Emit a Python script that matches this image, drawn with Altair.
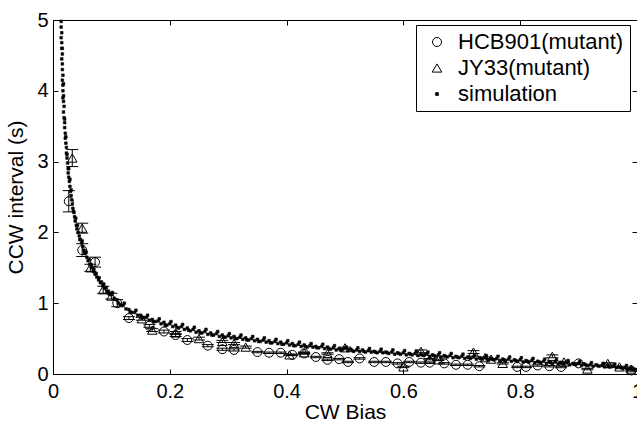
import altair as alt
import pandas as pd

series_names = ["HCB901(mutant)", "JY33(mutant)", "simulation"]

hcb_bias = [0.027, 0.05, 0.072, 0.11, 0.13, 0.165, 0.19, 0.21, 0.23, 0.265, 0.29, 0.31,
            0.35, 0.37, 0.39, 0.41, 0.43, 0.45, 0.47, 0.49, 0.505, 0.525, 0.55, 0.57,
            0.59, 0.61, 0.63, 0.645, 0.67, 0.69, 0.71, 0.73, 0.795, 0.81, 0.83, 0.85,
            0.87, 0.90, 0.99]
hcb_ccw = [2.44, 1.75, 1.58, 1.0, 0.79, 0.68, 0.60, 0.55, 0.48, 0.40, 0.35, 0.34,
           0.31, 0.30, 0.30, 0.27, 0.29, 0.24, 0.20, 0.21, 0.17, 0.22, 0.17, 0.17,
           0.15, 0.17, 0.16, 0.16, 0.15, 0.13, 0.13, 0.11, 0.10, 0.10, 0.12, 0.11,
           0.10, 0.15, 0.05]
hcb_err = [0.15, 0.09, 0.07, 0.05, 0.02, 0.02, 0.02, 0.02, 0.02, 0.015, 0.015, 0.015,
           0.01, 0.01, 0.01, 0.01, 0.01, 0.01, 0.01, 0.01, 0.01, 0.01, 0.01, 0.01,
           0.01, 0.01, 0.01, 0.01, 0.01, 0.01, 0.01, 0.01, 0.01, 0.01, 0.01, 0.01,
           0.01, 0.01, 0.01]

jy_bias = [0.033, 0.05, 0.064, 0.086, 0.10, 0.152, 0.17, 0.21, 0.25, 0.29, 0.31, 0.33,
           0.405, 0.43, 0.47, 0.50, 0.60, 0.63, 0.645, 0.66, 0.72, 0.74, 0.75, 0.77,
           0.855, 0.875, 0.915, 0.95, 0.97, 0.99]
jy_ccw = [3.05, 2.06, 1.50, 1.19, 1.10, 0.78, 0.62, 0.58, 0.50, 0.46, 0.43, 0.38,
          0.27, 0.30, 0.29, 0.37, 0.10, 0.32, 0.21, 0.20, 0.31, 0.23, 0.21, 0.15,
          0.25, 0.17, 0.07, 0.15, 0.10, 0.07]
jy_err = [0.12, 0.07, 0.05, 0.05, 0.04, 0.02, 0.02, 0.02, 0.02, 0.015, 0.015, 0.015,
          0.01, 0.01, 0.01, 0.01, 0.01, 0.02, 0.01, 0.01, 0.02, 0.01, 0.01, 0.01,
          0.02, 0.01, 0.01, 0.01, 0.01, 0.01]

sim_bias = [
    0.014, 0.014, 0.015, 0.014, 0.015, 0.015, 0.016, 0.015, 0.016, 0.016, 0.017, 0.016,
    0.017, 0.017, 0.018, 0.018, 0.019, 0.018, 0.019, 0.020, 0.020, 0.021, 0.021, 0.022,
    0.023, 0.023, 0.024, 0.025, 0.026, 0.026, 0.027, 0.028, 0.029, 0.030, 0.031, 0.032,
    0.033, 0.034, 0.036, 0.037, 0.038, 0.040, 0.041, 0.043, 0.045, 0.047, 0.049, 0.051,
    0.053, 0.055, 0.058, 0.060, 0.063, 0.066, 0.069, 0.072, 0.075, 0.078, 0.081, 0.085,
    0.088, 0.092, 0.096,
    0.016, 0.018, 0.017, 0.020, 0.022, 0.024, 0.027, 0.029, 0.031, 0.035, 0.039, 0.042,
    0.046, 0.050, 0.054, 0.057, 0.062, 0.065, 0.070, 0.074, 0.079, 0.083, 0.087, 0.091,
    0.095, 0.099,
    0.100, 0.105, 0.110, 0.115, 0.120, 0.125, 0.130, 0.135, 0.140, 0.145, 0.150, 0.155,
    0.160, 0.165, 0.170, 0.175, 0.180, 0.185, 0.190, 0.195, 0.200, 0.205, 0.210, 0.215,
    0.220, 0.225, 0.230, 0.235, 0.240, 0.245, 0.250, 0.255, 0.260, 0.265, 0.270, 0.275,
    0.280, 0.285, 0.290, 0.295, 0.300, 0.305, 0.310, 0.315, 0.320, 0.325, 0.330, 0.335,
    0.340, 0.345, 0.350, 0.355, 0.360, 0.365, 0.370, 0.375, 0.380, 0.385, 0.390, 0.395,
    0.400, 0.405, 0.410, 0.415, 0.420, 0.425, 0.430, 0.435, 0.440, 0.445, 0.450, 0.455,
    0.460, 0.465, 0.470, 0.475, 0.480, 0.485, 0.490, 0.495, 0.500, 0.505, 0.510, 0.515,
    0.520, 0.525, 0.530, 0.535, 0.540, 0.545, 0.550, 0.555, 0.560, 0.565, 0.570, 0.575,
    0.580, 0.585, 0.590, 0.595, 0.600, 0.605, 0.610, 0.615, 0.620, 0.625, 0.630, 0.635,
    0.640, 0.645, 0.650, 0.655, 0.660, 0.665, 0.670, 0.675, 0.680, 0.685, 0.690, 0.695,
    0.700, 0.705, 0.710, 0.715, 0.720, 0.725, 0.730, 0.735, 0.740, 0.745, 0.750, 0.755,
    0.760, 0.765, 0.770, 0.775, 0.780, 0.785, 0.790, 0.795, 0.800, 0.805, 0.810, 0.815,
    0.820, 0.825, 0.830, 0.835, 0.840, 0.845, 0.850, 0.855, 0.860, 0.865, 0.870, 0.875,
    0.880, 0.885, 0.890, 0.895, 0.900, 0.905, 0.910, 0.915, 0.920, 0.925, 0.930, 0.935,
    0.940, 0.945, 0.950, 0.955, 0.960, 0.965, 0.970, 0.975, 0.980, 0.985, 0.990, 0.995,
    1.000,
    0.102, 0.122, 0.142, 0.162, 0.182, 0.202, 0.222, 0.242, 0.262, 0.282, 0.302, 0.322,
    0.342, 0.362, 0.382, 0.402, 0.422, 0.442, 0.462, 0.482, 0.502, 0.522, 0.542, 0.562,
    0.582, 0.602, 0.622, 0.642, 0.662, 0.682, 0.702, 0.722, 0.742, 0.762, 0.782, 0.802,
    0.822, 0.842, 0.862, 0.882, 0.902, 0.922, 0.942, 0.962, 0.982,
    0.112, 0.132, 0.152, 0.172, 0.192, 0.212, 0.232, 0.252, 0.272, 0.292, 0.312, 0.332,
    0.352, 0.372, 0.392, 0.412, 0.432, 0.452, 0.472, 0.492, 0.512, 0.532, 0.552, 0.572,
    0.592, 0.612, 0.632, 0.652, 0.672, 0.692, 0.712, 0.732, 0.752, 0.772, 0.792, 0.812,
    0.832, 0.852, 0.872, 0.892, 0.912, 0.932, 0.952, 0.972, 0.992,
]
sim_ccw = [
    4.98, 4.90, 4.82, 4.75, 4.68, 4.60, 4.52, 4.45, 4.38, 4.30, 4.22, 4.15,
    4.08, 4.00, 3.93, 3.85, 3.78, 3.70, 3.62, 3.55, 3.48, 3.40, 3.33, 3.26,
    3.20, 3.12, 3.05, 2.98, 2.90, 2.84, 2.78, 2.72, 2.65, 2.58, 2.52, 2.46,
    2.40, 2.34, 2.28, 2.22, 2.16, 2.10, 2.05, 2.00, 1.95, 1.90, 1.85, 1.80,
    1.75, 1.70, 1.65, 1.60, 1.55, 1.50, 1.45, 1.41, 1.37, 1.33, 1.29, 1.25,
    1.21, 1.17, 1.13,
    4.60, 4.10, 3.90, 3.60, 3.35, 3.10, 2.90, 2.75, 2.60, 2.30, 2.20, 2.10,
    1.90, 1.88, 1.72, 1.72, 1.62, 1.55, 1.48, 1.42, 1.36, 1.30, 1.27, 1.22,
    1.17, 1.14,
    1.12, 1.07, 1.04, 0.98, 0.97, 0.92, 0.91, 0.87, 0.87, 0.83, 0.83, 0.80,
    0.80, 0.76, 0.77, 0.74, 0.75, 0.71, 0.73, 0.69, 0.71, 0.67, 0.69, 0.65,
    0.67, 0.63, 0.65, 0.61, 0.63, 0.59, 0.61, 0.58, 0.60, 0.56, 0.58, 0.55,
    0.57, 0.53, 0.55, 0.52, 0.54, 0.51, 0.53, 0.50, 0.52, 0.49, 0.51, 0.48,
    0.50, 0.47, 0.49, 0.46, 0.48, 0.45, 0.47, 0.44, 0.46, 0.43, 0.45, 0.42,
    0.44, 0.41, 0.43, 0.40, 0.42, 0.39, 0.41, 0.38, 0.40, 0.38, 0.39, 0.37,
    0.39, 0.36, 0.38, 0.35, 0.37, 0.34, 0.36, 0.34, 0.36, 0.33, 0.35, 0.32,
    0.34, 0.32, 0.34, 0.31, 0.33, 0.31, 0.32, 0.30, 0.32, 0.30, 0.31, 0.29,
    0.31, 0.28, 0.30, 0.28, 0.30, 0.27, 0.29, 0.27, 0.29, 0.26, 0.28, 0.26,
    0.28, 0.25, 0.27, 0.25, 0.27, 0.24, 0.26, 0.24, 0.26, 0.23, 0.25, 0.23,
    0.25, 0.22, 0.24, 0.22, 0.24, 0.21, 0.23, 0.21, 0.23, 0.20, 0.22, 0.20,
    0.22, 0.19, 0.21, 0.19, 0.21, 0.18, 0.20, 0.18, 0.20, 0.17, 0.19, 0.17,
    0.19, 0.16, 0.18, 0.16, 0.18, 0.15, 0.17, 0.15, 0.17, 0.14, 0.16, 0.14,
    0.16, 0.13, 0.15, 0.13, 0.15, 0.12, 0.14, 0.12, 0.13, 0.11, 0.13, 0.11,
    0.12, 0.10, 0.12, 0.10, 0.11, 0.09, 0.10, 0.08, 0.09, 0.07, 0.08, 0.06,
    0.06,
    1.15, 1.00, 0.90, 0.83, 0.78, 0.74, 0.70, 0.66, 0.63, 0.60, 0.57, 0.55,
    0.53, 0.51, 0.49, 0.47, 0.45, 0.43, 0.42, 0.40, 0.38, 0.37, 0.36, 0.35,
    0.34, 0.33, 0.32, 0.31, 0.30, 0.29, 0.28, 0.27, 0.26, 0.25, 0.24, 0.23,
    0.22, 0.21, 0.20, 0.19, 0.18, 0.16, 0.15, 0.14, 0.12,
    1.00, 0.88, 0.79, 0.74, 0.69, 0.66, 0.62, 0.58, 0.55, 0.52, 0.50, 0.48,
    0.46, 0.44, 0.42, 0.40, 0.39, 0.37, 0.36, 0.34, 0.33, 0.32, 0.31, 0.30,
    0.29, 0.28, 0.27, 0.26, 0.25, 0.24, 0.23, 0.22, 0.21, 0.20, 0.19, 0.18,
    0.17, 0.16, 0.15, 0.14, 0.13, 0.12, 0.10, 0.09, 0.07,
]

x_ticks = [0, 0.2, 0.4, 0.6, 0.8, 1]
y_ticks = [0, 1, 2, 3, 4, 5]

FONT = "Liberation Sans"

hcb = pd.DataFrame({"bias": hcb_bias, "ccw": hcb_ccw, "err": hcb_err})
hcb["series"] = series_names[0]
jy = pd.DataFrame({"bias": jy_bias, "ccw": jy_ccw, "err": jy_err})
jy["series"] = series_names[1]
exp = pd.concat([hcb, jy], ignore_index=True)
exp["lo"] = exp["ccw"] - exp["err"]
exp["hi"] = exp["ccw"] + exp["err"]
sim = pd.DataFrame({"bias": sim_bias, "ccw": sim_ccw})
sim["series"] = series_names[2]

xs = alt.Scale(domain=[0, 1], nice=False, zero=False)
ys = alt.Scale(domain=[0, 5], nice=False, zero=False)

bottom_axis = alt.Axis(orient="bottom", values=x_ticks, format="~g", offset=-5, tickSize=5,
                       domain=False, grid=False, labelPadding=7, labelFontSize=20,
                       labelFont=FONT, labelColor="black", tickColor="black",
                       title="CW Bias", titleFont=FONT, titleFontSize=21,
                       titleFontWeight="normal", titleColor="black", titlePadding=0,
                       labelFlush=False, labelOverlap=False)
top_axis = alt.Axis(orient="top", values=x_ticks, offset=-5, tickSize=5, domain=False,
                    grid=False, labels=False, title=None, tickColor="black")
left_axis = alt.Axis(orient="left", values=y_ticks, format="~g", offset=-5, tickSize=5,
                     domain=False, grid=False, labelPadding=5, labelFontSize=20,
                     labelFont=FONT, labelColor="black", tickColor="black",
                     title="CCW interval (s)", titleFont=FONT, titleFontSize=21,
                     titleFontWeight="normal", titleColor="black", titlePadding=10,
                     labelFlush=False, labelOverlap=False)
right_axis = alt.Axis(orient="right", values=y_ticks, offset=-5, tickSize=5, domain=False,
                      grid=False, labels=False, title=None, tickColor="black")

leg = alt.Legend(title=None)
shape_enc = alt.Shape("series:N", scale=alt.Scale(domain=series_names,
                      range=["circle", "triangle-up", "square"]), legend=leg)
size_enc = alt.Size("series:N", scale=alt.Scale(type="ordinal", domain=series_names,
                    range=[80, 90, 7]), legend=leg)
fill_enc = alt.Fill("series:N", scale=alt.Scale(domain=series_names,
                    range=["transparent", "transparent", "black"]), legend=leg)
stroke_enc = alt.Stroke("series:N", scale=alt.Scale(domain=series_names,
                        range=["black", "black", "black"]), legend=leg)

err_rule = alt.Chart(exp).mark_rule(color="black", strokeWidth=1).encode(
    x=alt.X("bias:Q", scale=xs, axis=None),
    y=alt.Y("lo:Q", scale=ys, axis=None),
    y2="hi:Q",
)
cap_lo = alt.Chart(exp).mark_tick(orient="horizontal", size=12, thickness=1,
                                  color="black", opacity=1).encode(
    x=alt.X("bias:Q", scale=xs, axis=None),
    y=alt.Y("lo:Q", scale=ys, axis=None),
)
cap_hi = alt.Chart(exp).mark_tick(orient="horizontal", size=12, thickness=1,
                                  color="black", opacity=1).encode(
    x=alt.X("bias:Q", scale=xs, axis=None),
    y=alt.Y("hi:Q", scale=ys, axis=None),
)
markers = alt.Chart(exp).mark_point(strokeWidth=1, opacity=1).encode(
    x=alt.X("bias:Q", scale=xs, axis=bottom_axis),
    y=alt.Y("ccw:Q", scale=ys, axis=left_axis),
    shape=shape_enc, size=size_enc, fill=fill_enc, stroke=stroke_enc,
)
sim_layer = alt.Chart(sim).mark_point(strokeWidth=0.6, opacity=1).encode(
    x=alt.X("bias:Q", scale=xs, axis=top_axis),
    y=alt.Y("ccw:Q", scale=ys, axis=right_axis),
    shape=shape_enc, size=size_enc, fill=fill_enc, stroke=stroke_enc,
)

chart = alt.layer(err_rule, cap_lo, cap_hi, markers, sim_layer).resolve_axis(
    x="independent", y="independent"
).properties(
    width=584, height=354,
    autosize=alt.AutoSizeParams(type="none"),
    padding={"left": 53, "top": 20, "right": 0, "bottom": 48},
    background="white",
).configure_view(
    stroke="black", strokeWidth=1
).configure_legend(
    orient="none", legendX=363, legendY=5, fillColor="white", strokeColor="black",
    padding=6, labelFont=FONT, labelFontSize=22, labelColor="black",
    symbolStrokeWidth=1, rowPadding=4, labelOffset=10, symbolOffset=4,
    labelLimit=400,
)

chart.save("out.html", embed_options={"renderer": "svg", "actions": False})
